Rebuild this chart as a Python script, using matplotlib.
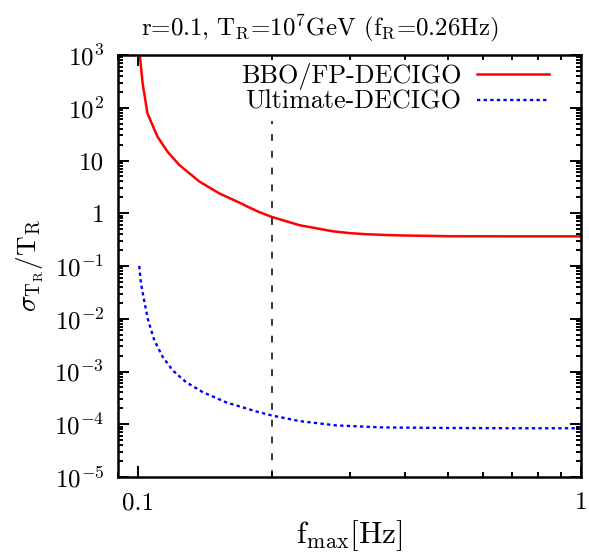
import numpy as np
import matplotlib
matplotlib.use("Agg")
import matplotlib.pyplot as plt
from matplotlib.ticker import LogLocator, FixedLocator, FixedFormatter, NullFormatter

plt.rcParams['font.family'] = ['cmr10', 'DejaVu Serif']
plt.rcParams['mathtext.fontset'] = 'cm'
plt.rcParams['axes.unicode_minus'] = False
plt.rcParams['axes.formatter.use_mathtext'] = True

# BBO/FP-DECIGO (red, solid)
f_bbo = [0.1008, 0.1023, 0.1049, 0.1106, 0.1165, 0.1238, 0.1374, 0.1525, 0.1692,
         0.1783, 0.1877, 0.2, 0.231, 0.275, 0.30, 0.328, 0.36, 0.39, 0.506, 0.7, 1.0]
s_bbo = [1000, 290, 78, 28, 14.6, 8.2, 4.0, 2.37, 1.59,
         1.28, 1.05, 0.855, 0.595, 0.455, 0.42, 0.40, 0.388, 0.38, 0.367, 0.365, 0.365]

# Ultimate-DECIGO (blue, dotted)
f_ult = [0.1005, 0.1014, 0.1031, 0.105, 0.1087, 0.1135, 0.1196, 0.1282, 0.1398,
         0.158, 0.1846, 0.2, 0.231, 0.28, 0.357, 0.5, 0.7, 1.0]
s_ult = [0.1, 0.047, 0.0224, 0.0101, 0.0039, 1.9e-3, 1.05e-3, 6.3e-4, 4.07e-4,
         2.6e-4, 1.75e-4, 1.47e-4, 1.15e-4, 9.5e-5, 8.7e-5, 8.5e-5, 8.4e-5, 8.4e-5]

f_R_line = 0.2
y_ticks = [1e3, 1e2, 10, 1, 1e-1, 1e-2, 1e-3, 1e-4, 1e-5]
y_labels = [r'$10^{3}$', r'$10^{2}$', '10', '1', r'$10^{-1}$', r'$10^{-2}$',
            r'$10^{-3}$', r'$10^{-4}$', r'$10^{-5}$']
x_ticks = [0.1, 1]
x_labels = ['0.1', '1']

fig = plt.figure(figsize=(5.89, 5.58), dpi=100)
fig.subplots_adjust(left=118/589, right=581/589, top=1-55/558, bottom=1-477/558)
ax = fig.add_subplot(111)

ax.plot(f_bbo, s_bbo, color='#ff0000', lw=1.8, label='BBO/FP-DECIGO')
ax.plot(f_ult, s_ult, color='#0000ff', lw=1.7, linestyle=(0, (1.4, 1.4)),
        label='Ultimate-DECIGO')
ax.plot([f_R_line, f_R_line], [1e-5, 55], color='black', lw=1.1,
        linestyle=(0, (4.5, 6.5)))

ax.set_xscale('log')
ax.set_yscale('log')
ax.set_xlim(0.09, 1)
ax.set_ylim(1e-5, 1e3)

ax.xaxis.set_major_locator(FixedLocator(x_ticks))
ax.xaxis.set_major_formatter(FixedFormatter(x_labels))
ax.xaxis.set_minor_locator(LogLocator(base=10, subs=np.arange(2, 10)))
ax.xaxis.set_minor_formatter(NullFormatter())
ax.yaxis.set_major_locator(FixedLocator(y_ticks))
ax.yaxis.set_major_formatter(FixedFormatter(y_labels))
ax.yaxis.set_minor_locator(LogLocator(base=10, subs=np.arange(2, 10), numticks=20))
ax.yaxis.set_minor_formatter(NullFormatter())

ax.tick_params(which='both', direction='in', top=True, right=True, width=1.4,
               labelsize=18, color='black')
ax.tick_params(which='major', length=8)
ax.tick_params(which='minor', length=3.8)
ax.tick_params(axis='y', which='major', pad=10)
ax.tick_params(axis='x', which='major', pad=11)
for sp in ax.spines.values():
    sp.set_linewidth(1.8)

ax.set_xlabel(r'$\mathrm{f_{max}[Hz]}$', fontsize=22.5)
ax.xaxis.set_label_coords(0.5, (477-518)/422)
ax.set_ylabel(r'$\sigma_{\mathrm{T_R}}/\mathrm{T_R}$', fontsize=19.5)
ax.yaxis.set_label_coords((30-118)/463, 0.5)
ax.yaxis.label.set_va('center')

fig.text(141/589, 1-35/558, r'r=0.1, $\mathrm{T_R}$=$10^7$GeV ($\mathrm{f_R}$=0.26Hz)',
         fontsize=17.9, ha='left', va='baseline')

ax.legend(loc='upper right', frameon=False, markerfirst=False, fontsize=18.8,
          handlelength=2.75, handletextpad=0.6, labelspacing=0.0,
          borderpad=0, borderaxespad=0,
          bbox_to_anchor=((549-118)/463, 1-8/422))

fig.savefig('out.png', dpi=100)
